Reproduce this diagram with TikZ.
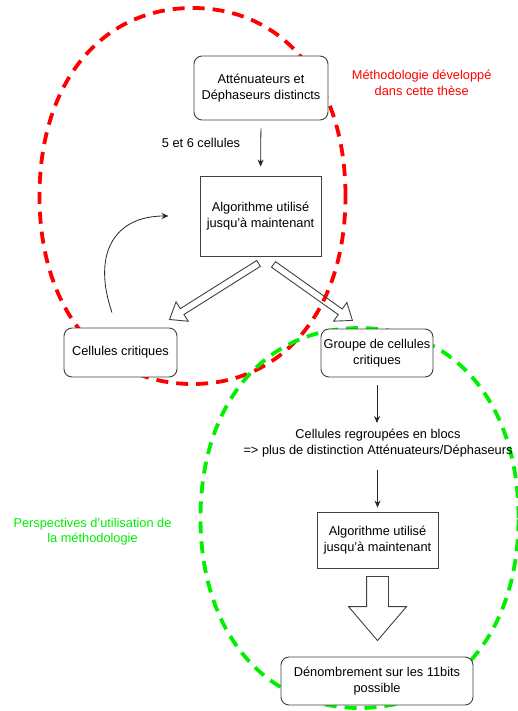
\documentclass[tikz,border=0pt]{standalone}
\usepackage{fontspec}
\setmainfont{Liberation Sans}
\usetikzlibrary{arrows.meta,shapes.arrows,calc}

\definecolor{theseRed}{HTML}{FF0000}
\definecolor{perspGreen}{HTML}{00F000}

\tikzset{
  txt/.style={align=center, inner sep=0pt, font=\fontsize{12.8}{15.5}\selectfont},
  box/.style={txt, draw=black!75, fill=white, line width=0.9pt},
  roundbox/.style={box, rounded corners=8pt},
  flow/.style={-{Stealth[length=7pt,width=6pt]}, draw=black!85, line width=0.8pt},
  zone/.style={line width=3.8pt, dash pattern=on 12pt off 8pt},
  blockarrow/.style={single arrow, draw=black!75, line width=0.9pt, inner xsep=0pt,
    inner ysep=3pt, single arrow head extend=8pt, single arrow tip angle=75, outer sep=0pt}
}

% hollow arrow from #2 to #3
\newcommand{\blockArrow}[3][]{%
  \path let \p1=(#2), \p2=(#3), \n1={atan2(\y2-\y1,\x2-\x1)}, \n2={veclen(\x2-\x1,\y2-\y1)} in
    node[blockarrow, #1, minimum height=\n2, rotate=\n1, anchor=tail] at (\p1) {};}

\begin{document}
\begin{tikzpicture}[x=1pt, y=-1pt]
  \useasboundingbox (0,0) rectangle (518,711);
  % Zones:
  \begin{scope}[shift={(192.5,196)}, x=153pt, y=188pt]
    \draw[zone, theseRed] (1,0) .. controls (1,0.6) and (0.6,1) .. (0,1)
      .. controls (-0.6,1) and (-1,0.6) .. (-1,0) .. controls (-1,-0.6) and (-0.6,-1) .. (0,-1)
      .. controls (0.6,-1) and (1,-0.6) .. cycle;
  \end{scope}
  \begin{scope}[shift={(359.5,518)}, x=159pt, y=190pt]
    \draw[zone, perspGreen] (1,0) .. controls (1,0.6) and (0.6,1) .. (0,1)
      .. controls (-0.6,1) and (-1,0.6) .. (-1,0) .. controls (-1,-0.6) and (-0.6,-1) .. (0,-1)
      .. controls (0.6,-1) and (1,-0.6) .. cycle;
  \end{scope}
  \node[txt, text=theseRed] (redLbl) at (421.7,83) {Méthodologie développé\\dans cette thèse};
  \node[txt, text=perspGreen] (greenLbl) at (92.5,531.5) {Perspectives d'utilisation de\\la méthodologie};

  % Boxes:
  \node[roundbox, minimum width=134, minimum height=64] (attdep) at (261,88) {Atténuateurs et\\Déphaseurs distincts};
  \node[box, minimum width=121, minimum height=80] (algoA) at (260.5,216) {Algorithme utilisé\\jusqu'à maintenant};
  \node[roundbox, minimum width=113, minimum height=49] (crit) at (120.5,352.5) {Cellules critiques};
  \node[roundbox, minimum width=112, minimum height=48] (grp) at (377,353) {Groupe de cellules\\critiques};
  \node[txt] (regroup) at (378,443) {Cellules regroupées en blocs\\=> plus de distinction Atténuateurs/Déphaseurs};
  \node[box, minimum width=121, minimum height=56] (algoB) at (377.5,540) {Algorithme utilisé\\jusqu'à maintenant};
  \node[roundbox, minimum width=192, minimum height=48] (denomb) at (377,681) {Dénombrement sur les 11bits\\possible};
  \node[txt] (cellLbl) at (201,143) {5 et 6 cellules};

  % Arrows:
  \draw[flow, shorten <=8pt, shorten >=9pt] (attdep.south) -- (algoA.north);
  \draw[flow, shorten <=8pt, shorten >=6pt] (grp.south) -- (regroup.north -| grp.south);
  \draw[flow, shorten <=13pt, shorten >=4pt] (regroup.south -| algoB.north) -- (algoB.north);

  \coordinate (loopStart) at ($(crit.north)+(-8.5,-15)$);
  \coordinate (loopEnd) at ($(algoA.west)+(-31,0)$);
  \draw[flow] (loopStart) .. controls +(-20,-58) and +(-55,0) .. (loopEnd);

  \coordinate (leftTail) at ($(algoA.south)+(-2,7)$);
  \coordinate (leftTip) at ($(crit.north east)+(-8,-8)$);
  \coordinate (rightTail) at ($(algoA.south)+(13,8)$);
  \coordinate (rightTip) at ($(grp.north west)+(32,-8)$);
  \coordinate (downTail) at ($(algoB.south)+(0,8)$);
  \coordinate (downTip) at ($(denomb.north)+(0.5,-16)$);
  \blockArrow{leftTail}{leftTip}
  \blockArrow{rightTail}{rightTip}
  \blockArrow[inner ysep=10.5pt, single arrow head extend=18pt, single arrow tip angle=81]{downTail}{downTip}
\end{tikzpicture}
\end{document}
